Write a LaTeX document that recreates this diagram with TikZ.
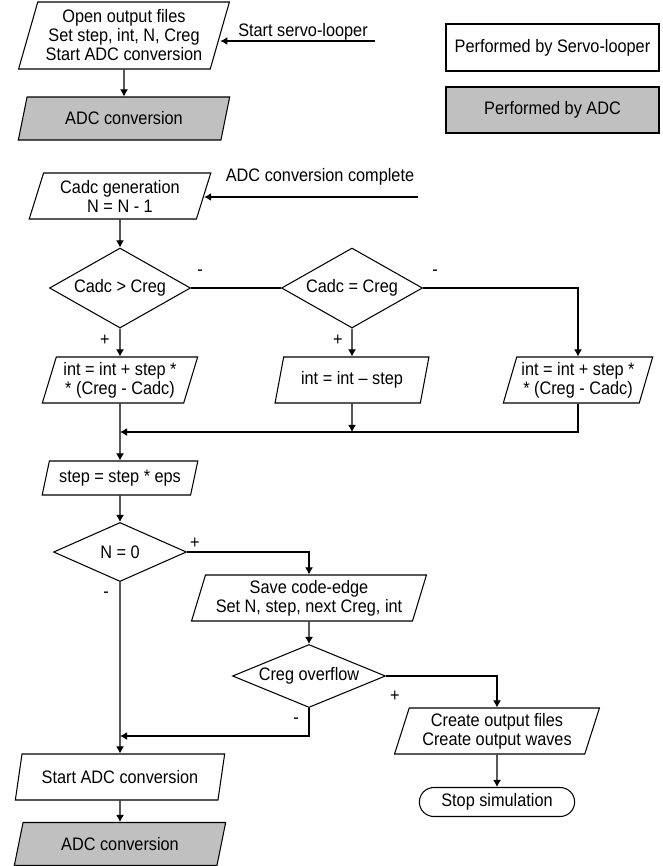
\documentclass[tikz,border=0pt]{standalone}
\usepackage{fontspec}
\setmainfont[FakeStretch=0.9]{Liberation Sans}
\usetikzlibrary{shapes}
\usetikzlibrary{positioning}
\usetikzlibrary{arrows.meta}
\definecolor{adcgray}{RGB}{192,192,192}
\tikzset{
    mypara/.style = {trapezium, trapezium left angle=72, trapezium right angle=108, trapezium stretches=true, draw=black, fill=white, line width=0.6pt, inner sep=1pt, align=center, minimum height=0.92cm},
    myparag/.style = {mypara, fill=adcgray},
    mydiam/.style = {diamond, aspect=2.5, draw=black, line width=0.6pt, inner sep=0pt},
    mybox/.style = {rectangle, draw=black, line width=0.6pt, minimum width=4.26cm, minimum height=0.94cm},
    myboxg/.style = {mybox, fill=adcgray},
    myterm/.style = {rounded rectangle, draw=black, line width=0.6pt, minimum width=3.34cm, minimum height=0.58cm},
    mylabel/.style = {inner sep=0pt},
    edgen/.style = {-{Latex[length=4pt,width=4.5pt]}, line width=0.6pt},
    edgel/.style = {line width=0.6pt},
    every node/.style = {font=\fontsize{10.3pt}{10.8pt}\selectfont}
}
\begin{document}
\begin{tikzpicture}[x=0.02cm,y=-0.02cm]
\path[use as bounding box] (0,0) rectangle (663,866);
%
\node[mypara, minimum width=4.22cm, minimum height=1.34cm] at (124,35.5) (open) {Open output files\\Set step, int, N, Creg\\Start ADC conversion};
\node[myparag, minimum width=4.26cm, minimum height=0.86cm] at (124,118.5) (adc1) {ADC conversion};
\coordinate (servo) at (375,41);
\node[mylabel] at (303,32) (servolbl) {Start servo-looper};
%
\node[mybox] at (552.5,47.5) (legs) {Performed by Servo-looper};
\node[myboxg, minimum height=0.92cm] at (552.5,110) (lega) {Performed by ADC};
%
\node[mypara, minimum width=3.64cm] at (120,196) (cadc) {Cadc generation\\N = N - 1};
\coordinate (done) at (418,197);
\node[mylabel] at (320,177) (donelbl) {ADC conversion complete};
%
\node[mydiam, minimum width=2.82cm, minimum height=1.6cm] at (120,288) (gt) {Cadc > Creg};
\node[mydiam, minimum width=2.82cm, minimum height=1.6cm] at (352,288) (eq) {Cadc = Creg};
\node[mypara, minimum width=3.12cm] at (120,380) (inta) {int = int + step *\\ * (Creg - Cadc)};
\node[mypara, minimum width=3.08cm] at (352,380) (intb) {int = int -- step};
\node[mypara, minimum width=3.00cm] at (578,380) (intc) {int = int + step *\\ * (Creg - Cadc)};
\coordinate (joina) at (120,432);
\node[mypara, minimum width=3.12cm, minimum height=0.68cm] at (120,478) (step) {step = step * eps};
%
\node[mydiam, minimum width=2.66cm, minimum height=1.18cm] at (120,552) (nz) {N = 0};
\node[mypara, minimum width=4.7cm] at (309,598) (save) {Save code-edge\\Set N, step, next Creg, int};
\node[mydiam, minimum width=3.06cm, minimum height=1.26cm] at (309,676) (over) {Creg overflow};
\node[mypara, minimum width=4.1cm] at (497,731) (create) {Create output files\\Create output waves};
\node[myterm] at (497,802) (stop) {Stop simulation};
\coordinate (joinb) at (120,736);
\node[mypara, minimum width=4.22cm] at (120,777) (start) {Start ADC conversion};
\node[myparag, minimum width=4.26cm, minimum height=0.86cm] at (120,844) (adc2) {ADC conversion};
%
\node[mylabel] at (200,273) (gtno) {-};
\node[mylabel] at (435,273) (eqno) {-};
\node[mylabel] at (105,340) (gtyes) {+};
\node[mylabel] at (338,340) (eqyes) {+};
\node[mylabel] at (195,543) (nzyes) {+};
\node[mylabel] at (106,595) (nzno) {-};
\node[mylabel] at (395,696) (overyes) {+};
\node[mylabel] at (296,721) (overno) {-};
%
\draw[edgen] (open) -- (adc1);
\draw[edgen] (servo) -- (servo -| open.east);
\draw[edgen] (done) -- (done -| cadc.east);
\draw[edgen] (cadc) -- (gt);
\draw[edgel] (gt) -- (eq);
\draw[edgen] (eq) -| (intc);
\draw[edgen] (gt) -- (inta);
\draw[edgen] (eq) -- (intb);
\draw[edgen] (intc) |- (joina);
\draw[edgen] (intb) -- (intb |- joina);
\draw[edgen] (inta) -- (step);
\draw[edgen] (step) -- (nz);
\draw[edgen] (nz) -| (save);
\draw[edgen] (nz) -- (start);
\draw[edgen] (save) -- (over);
\draw[edgen] (over) -| (create);
\draw[edgen] (over) |- (joinb);
\draw[edgen] (create) -- (stop);
\draw[edgen] (start) -- (adc2);

\end{tikzpicture}
\end{document}
